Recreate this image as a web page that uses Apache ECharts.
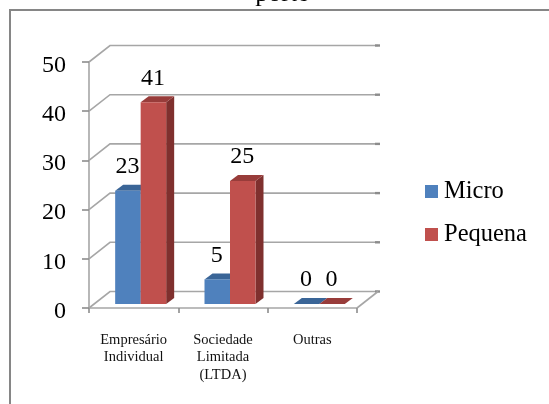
<!DOCTYPE html>
<html>
<head>
<meta charset="utf-8">
<style>html,body{margin:0;padding:0;background:#fff}#chart{width:549px;height:404px}</style>
<script src="https://cdn.jsdelivr.net/npm/echarts@6/dist/echarts.min.js"></script>
</head>
<body>
<div id="chart"></div>
<script>
// Companies by legal form and size
const categories = ['Empresário\nIndividual', 'Sociedade\nLimitada\n(LTDA)', 'Outras'];
const micro = [23, 5, 0];
const pequena = [41, 25, 0];
const valueTicks = [0, 10, 20, 30, 40, 50];

const FONT = '"Liberation Serif", "Times New Roman", serif';
const WALL = { dx: 21, dy: -16.5 };      // shift from the front plane to the back wall
const BAR_PLANE = { dx: 7, dy: -4 };     // shift from the front plane to the bars' front faces
const BAR = { width: 25.5, dx: 8, dy: -6 };
const GRID_COLOR = '#A6A6A6';

// Prism with a front, top and side face; side: -1 left of the band centre, +1 right
function prism(colors, side) {
  return function (params, api) {
    const value = api.value(1);
    const top = api.coord([api.value(0), value]);
    const base = api.coord([api.value(0), 0]);
    const x0 = top[0] + BAR_PLANE.dx + (side < 0 ? -BAR.width : 0);
    const x1 = x0 + BAR.width;
    const yTop = top[1] + BAR_PLANE.dy;
    const yBase = base[1] + BAR_PLANE.dy;
    const d = BAR;
    const poly = (points, fill) => ({ type: 'polygon', shape: { points }, style: { fill } });
    return {
      type: 'group',
      children: [
        poly([[x1, yTop], [x1 + d.dx, yTop + d.dy], [x1 + d.dx, yBase + d.dy], [x1, yBase]], colors.side),
        poly([[x0, yTop], [x1, yTop], [x1 + d.dx, yTop + d.dy], [x0 + d.dx, yTop + d.dy]], colors.top),
        poly([[x0, yBase], [x1, yBase], [x1, yTop], [x0, yTop]], colors.front),
        {
          type: 'text',
          style: {
            text: String(value), x: (x0 + x1) / 2 - 0.5, y: yTop + d.dy - 18,
            align: 'center', verticalAlign: 'middle',
            fontFamily: FONT, fontSize: 24, fill: '#000'
          }
        }
      ]
    };
  };
}

// Gridline folded along the side wall and running across the back wall
function wallLine(params, api) {
  const cs = params.coordSys;
  const y = api.coord([0, api.value(0)])[1];
  const left = cs.x, right = cs.x + cs.width;
  const stroke = { stroke: GRID_COLOR, lineWidth: 1.6, fill: 'none' };
  const children = [
    { type: 'polyline', shape: { points: [[left, y], [left + WALL.dx, y + WALL.dy], [right + WALL.dx, y + WALL.dy]] }, style: stroke },
    { type: 'line', shape: { x1: right + WALL.dx - 3, y1: y + WALL.dy, x2: right + WALL.dx + 2, y2: y + WALL.dy }, style: { stroke: '#8C8C8C', lineWidth: 2.4 } }
  ];
  if (api.value(0) === 0) {
    children.push({ type: 'line', shape: { x1: right, y1: y, x2: right + WALL.dx, y2: y + WALL.dy }, style: stroke });
  }
  return { type: 'group', children };
}

const chart = echarts.init(document.getElementById('chart'), null, { renderer: 'canvas' });
chart.setOption({
  animation: false,
  backgroundColor: '#fff',
  title: {
    text: 'porte', left: 277, top: -24, textAlign: 'center',
    textStyle: { fontFamily: FONT, fontSize: 26, fontWeight: 'normal', color: '#000' }
  },
  graphic: [
    { type: 'polyline', shape: { points: [[10, 404], [10, 10], [549, 10]] }, style: { stroke: '#868686', lineWidth: 2, fill: 'none' }, silent: true }
  ],
  legend: {
    data: ['Micro', 'Pequena'], orient: 'vertical', left: 420, top: 174,
    icon: 'rect', itemWidth: 13, itemHeight: 13, itemGap: 18,
    textStyle: { fontFamily: FONT, fontSize: 24.5, color: '#000', padding: [0, 0, 0, 1] }
  },
  grid: { left: 89, top: 62, width: 268, height: 246 },
  xAxis: {
    type: 'category', data: categories,
    axisLine: { lineStyle: { color: GRID_COLOR, width: 1.6 } },
    axisTick: { show: true, length: 5, lineStyle: { color: '#8C8C8C', width: 1.6 } },
    axisLabel: { fontFamily: FONT, fontSize: 14.5, color: '#111', lineHeight: 17.5, margin: 23, interval: 0 }
  },
  yAxis: {
    type: 'value', min: 0, max: 50, interval: 10,
    splitLine: { show: false },
    axisLine: { show: true, lineStyle: { color: GRID_COLOR, width: 1.6 } },
    axisTick: { show: true, length: 7, lineStyle: { color: '#8C8C8C', width: 1.6 } },
    axisLabel: { fontFamily: FONT, fontSize: 24, color: '#000', margin: 23, verticalAlign: 'top', lineHeight: 7 }
  },
  series: [
    { type: 'custom', name: 'wall', silent: true, clip: false, z: 1, renderItem: wallLine, encode: { y: 0 }, data: valueTicks.map(v => [v]) },
    {
      type: 'custom', name: 'Micro', clip: false, z: 2, itemStyle: { color: '#4F81BD' },
      renderItem: prism({ front: '#4F81BD', top: '#3A6597', side: '#345A87' }, -1),
      encode: { x: 0, y: 1 }, data: micro.map((v, i) => [i, v])
    },
    {
      type: 'custom', name: 'Pequena', clip: false, z: 3, itemStyle: { color: '#C0504D' },
      renderItem: prism({ front: '#C0504D', top: '#983C3A', side: '#7F302E' }, 1),
      encode: { x: 0, y: 1 }, data: pequena.map((v, i) => [i, v])
    }
  ]
});
</script>
</body>
</html>
